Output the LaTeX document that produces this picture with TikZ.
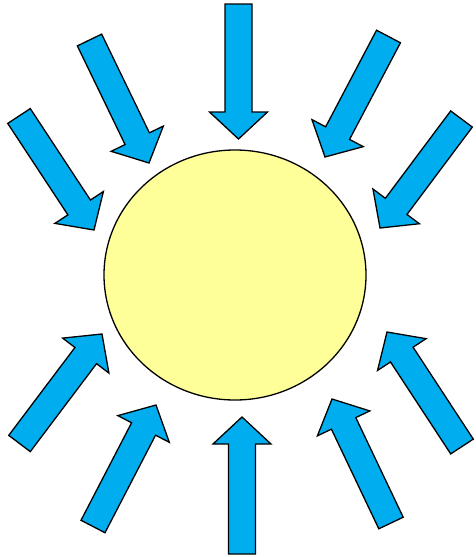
\documentclass[tikz,border=0pt]{standalone}
\usetikzlibrary{calc,shapes.geometric}
\definecolor{arrowblue}{RGB}{0,174,239}
\definecolor{sunyellow}{RGB}{255,255,153}
\tikzset{
  sunray/.style={fill=arrowblue,draw=black,line width=1.3pt,line join=miter},
  sunbody/.style={fill=sunyellow,draw=black,line width=1.3pt}
}
\newcommand{\sunray}[2]{%
  \coordinate (S) at (#1);
  \coordinate (T) at (#2);
  \coordinate (H) at ($(T)!27pt!(S)$);
  \draw[sunray] ($(S)!13.5pt!90:(T)$) -- ($(H)!13.5pt!-90:(S)$) -- ($(H)!29pt!-90:(S)$) -- (T)
    -- ($(H)!29pt!90:(S)$) -- ($(H)!13.5pt!90:(S)$) -- ($(S)!13.5pt!-90:(T)$) -- cycle;
}
\begin{document}
\begin{tikzpicture}[x=1pt,y=-1pt]
\useasboundingbox (0,0) rectangle (475,557);
\node[sunbody,ellipse,minimum width=262pt,minimum height=250pt,inner sep=0pt] (sun) at (235,275) {};
\sunray{238.5,4}{238.5,139}
\sunray{89.5,40}{149,163}
\sunray{19,116}{94,230}
\sunray{388.5,36.5}{325,157}
\sunray{461.5,119}{380,228}
\sunray{19.5,443.5}{102,334}
\sunray{93,526.5}{156,405}
\sunray{242,554}{242,417}
\sunray{391,523}{332,399}
\sunray{462,446.5}{387,332}
\end{tikzpicture}
\end{document}
